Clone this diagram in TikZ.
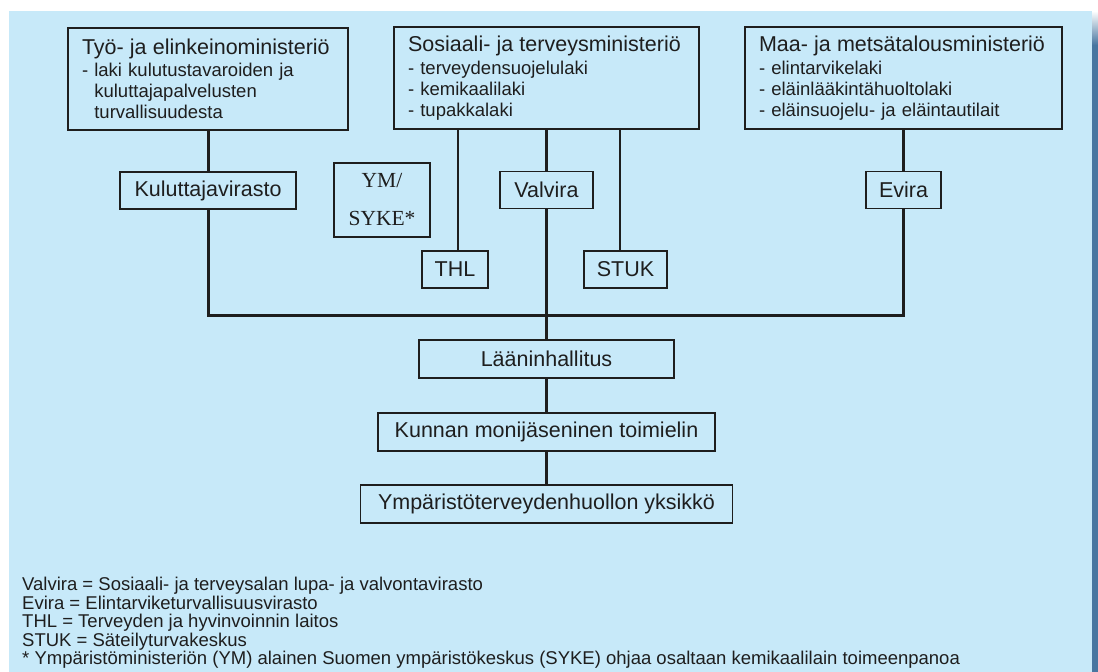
\documentclass[tikz,border=0pt]{standalone}
\usepackage{fontspec}
\setmainfont{Liberation Sans}
\newfontfamily\ymfont{Liberation Serif}
\usetikzlibrary{shapes}
\definecolor{bgblue}{RGB}{199,233,249}
\definecolor{edgeblue}{RGB}{72,118,160}
\definecolor{ink}{RGB}{30,30,30}
\newcommand\headfont{\fontsize{21.5}{21}\selectfont}

\begin{document}
\begin{tikzpicture} [x=1pt, y=-1pt, node distance=112pt, ink,
  ministry/.style={rectangle, draw, line width=1.1pt, align=left, minimum height=102pt, inner xsep=14pt, inner ysep=0pt, font=\fontsize{18.5}{21}\selectfont},
  agency/.style={rectangle, draw, line width=1.1pt, text badly centered, minimum height=37pt, inner sep=0pt, font=\fontsize{21.5}{24}\selectfont},
  trunk/.style={line width=3pt},
  branch/.style={line width=1.1pt}]
	\useasboundingbox (0,0) rectangle (1098,672);
	% background
	\fill[white] (0,0) rectangle (1098,672);
	\fill[bgblue] (9,11) rectangle (1092,672);
	\shade[top color=white, bottom color=edgeblue] (1092,11) rectangle (1098,45);
	\fill[edgeblue] (1092,45) rectangle (1098,672);

	% ministries
	\node [ministry, text width=252pt] (tem) at (208,79) {{\headfont Työ- ja elinkeinoministeriö}\\[1.5pt]
		- laki kulutustavaroiden ja\\ \phantom{- }kuluttajapalvelusten\\ \phantom{- }turvallisuudesta};
	\node [ministry, text width=277pt] (stm) at (546.5,78) {{\headfont Sosiaali- ja terveysministeriö}\\[1.5pt]
		- terveydensuojelulaki\\ - kemikaalilaki\\ - tupakkalaki};
	\node [ministry, text width=289pt] (mmm) at (903.5,78) {{\headfont Maa- ja metsätalousministeriö}\\[1.5pt]
		- elintarvikelaki\\ - eläinlääkintähuoltolaki\\ - eläinsuojelu- ja eläintautilait};

	% agencies
	\node [agency, below of=tem, minimum width=176pt, node distance=111.5pt] (kuluttaja) {Kuluttajavirasto};
	\node [agency, below of=stm, minimum width=93pt] (valvira) {Valvira};
	\node [agency, below of=mmm, minimum width=75pt] (evira) {Evira};
	\node [agency, minimum width=66pt] (thl) at (455,269.5) {THL};
	\node [agency, minimum width=83pt] (stuk) at (625.5,269.5) {STUK};
	\node [rectangle, draw, line width=1.1pt, minimum width=96pt, minimum height=74pt, align=center, font=\ymfont\fontsize{21.5}{25}\selectfont] (ym) at (382,200) {YM/\\[13pt]SYKE*};

	% regional and local level
	\node [agency, below of=valvira, minimum width=255pt, minimum height=38pt, node distance=169pt] (laani) {Lääninhallitus};
	\node [agency, below of=laani, minimum width=337pt, minimum height=38pt, node distance=73pt] (kunta) {Kunnan monijäseninen toimielin};
	\node [agency, below of=kunta, minimum width=372pt, minimum height=38pt, node distance=72pt] (yksikko) {Ympäristöterveydenhuollon yksikkö};

	% draw edges
	\coordinate (junction) at (546.5,315);
	\draw [trunk] (tem.south) -- (kuluttaja.north);
	\draw [trunk] (stm.south) -- (valvira.north);
	\draw [trunk] (mmm.south) -- (evira.north);
	\draw [trunk] (kuluttaja.south) |- (junction) -| (evira.south);
	\draw [trunk] (valvira.south) -- (laani.north);
	\draw [trunk] (laani.south) -- (kunta.north);
	\draw [trunk] (kunta.south) -- (yksikko.north);
	\draw [branch] ([xshift=3pt]thl.north) -- ([xshift=3pt]thl.north |- stm.south);
	\draw [branch] ([xshift=-5.5pt]stuk.north) -- ([xshift=-5.5pt]stuk.north |- stm.south);

	% legend
	\node [anchor=west, align=left, inner sep=0pt, font=\fontsize{18.5}{18.5}\selectfont] (legend) at (22,623) {Valvira = Sosiaali- ja terveysalan lupa- ja valvontavirasto\\
		Evira = Elintarviketurvallisuusvirasto\\
		THL = Terveyden ja hyvinvoinnin laitos\\
		STUK = Säteilyturvakeskus\\
		* Ympäristöministeriön (YM) alainen Suomen ympäristökeskus (SYKE) ohjaa osaltaan kemikaalilain toimeenpanoa};
\end{tikzpicture}
\end{document}
